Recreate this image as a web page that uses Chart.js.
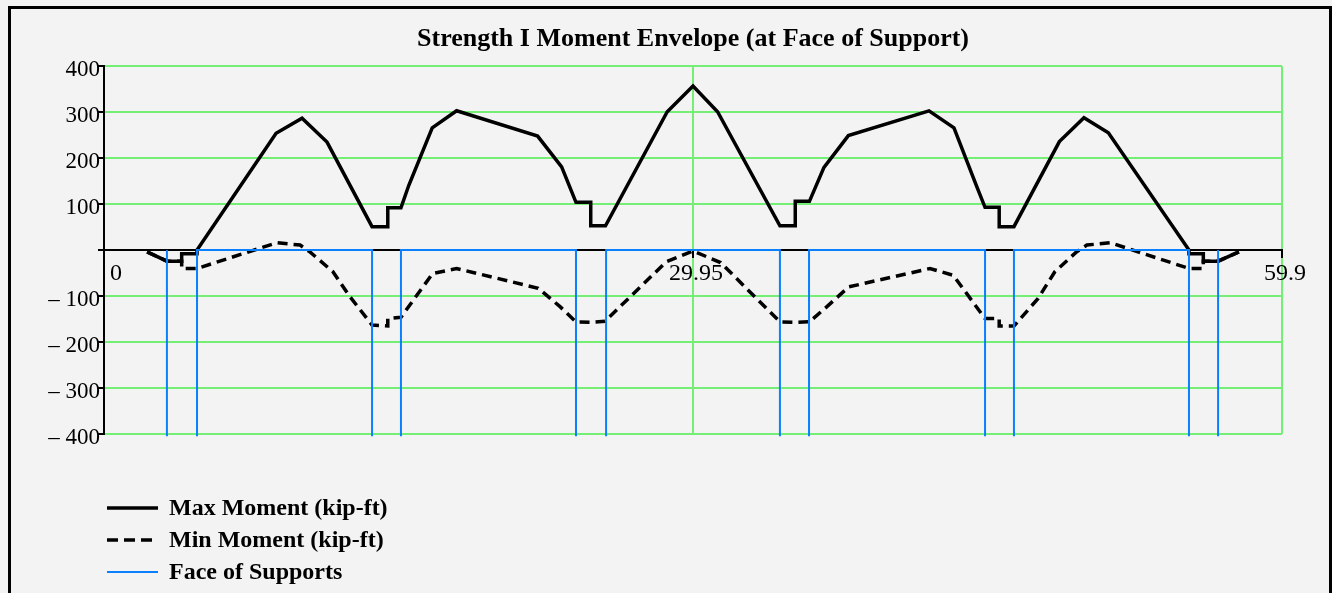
<!DOCTYPE html>
<html>
<head>
<meta charset="utf-8">
<script src="https://cdn.jsdelivr.net/npm/chart.js@4"></script>
<style>
  html, body { margin: 0; padding: 0; background: #f3f3f3; }
  #frame { position: absolute; left: 8px; top: 6px; width: 1318px; height: 600px; border: 3px solid #000; border-bottom: none; }
  canvas { display: block; }
</style>
</head>
<body>
<div id="frame"><canvas id="myChart" width="1318" height="584"></canvas></div>
<script>
    // distances along the girder (ft) and moments (kip-ft)
    let maxX = [2.19, 3.2, 3.95, 3.95, 4.73, 4.73, 8.75, 10.07, 11.34, 13.63, 14.43, 14.43, 15.1, 15.5, 16.69, 17.93,
                22.05, 23.27, 24.0, 24.75, 24.75, 25.5, 28.64, 29.95, 31.2, 34.37, 35.15, 35.15, 35.87, 36.61, 37.85,
                41.95, 43.22, 44.41, 44.8, 45.52, 45.52, 46.27, 48.58, 49.83, 51.07, 55.17, 55.17, 55.9, 55.9, 56.65, 57.71];
    let maxY = [-4, -24, -24, -8, -8, 0, 254, 287, 235, 51, 51, 92, 92, 141, 266, 303,
                248, 181, 104, 104, 53, 53, 301, 357, 301, 53, 53, 106, 106, 180, 249,
                303, 266, 135, 93, 93, 51, 51, 236, 288, 255, 0, -8, -8, -24, -24, -4];

    let minX = [2.19, 3.2, 3.95, 3.95, 4.73, 8.78, 9.97, 10.47, 11.64, 12.5, 13.63, 14.43, 14.43, 15.1, 16.71, 17.93,
                22.08, 23.19, 24.0, 24.75, 25.47, 28.6, 29.95, 31.35, 34.37, 35.15, 35.87, 36.76, 37.87,
                42.0, 43.19, 44.8, 45.52, 45.52, 46.27, 47.5, 48.35, 49.45, 49.98, 51.17, 55.17, 55.9, 55.9, 56.65, 57.71];
    let minY = [-4, -24, -24, -40, -40, 16, 11, -4, -47, -101, -163, -165, -149, -146, -51, -40,
                -83, -123, -156, -157, -155, -25, -2, -27, -156, -157, -156, -123, -80,
                -40, -55, -149, -149, -165, -165, -105, -47, -4, 11, 16, -40, -40, -24, -24, -4];

    let supportX = [3.2, 4.73, 13.63, 15.1, 24.0, 25.53, 34.37, 35.85, 44.8, 46.27, 55.17, 56.65];

    let xTicks = [0, 29.95, 59.9];
    let xTickLabels = ["   0", "29.95", "59.9"];
    let yTicks = [-400, -300, -200, -100, 0, 100, 200, 300, 400];

    function toPoints(xs, ys) {
      return xs.map((x, i) => ({ x: x, y: ys[i] }));
    }

    // face of supports: first and last lines alone, the rest joined along zero
    let bottom = yTicks[0] - 5;
    let last = supportX.length - 1;
    let supportPoints = [{ x: supportX[0], y: bottom }, { x: supportX[0], y: 0 }, { x: supportX[0], y: null }];
    for (let i = 1; i < last; i += 2) {
      supportPoints.push({ x: supportX[i], y: bottom }, { x: supportX[i], y: 0 },
                         { x: supportX[i + 1], y: 0 }, { x: supportX[i + 1], y: bottom },
                         { x: supportX[i + 1], y: null });
    }
    supportPoints.push({ x: supportX[last], y: 0 }, { x: supportX[last], y: bottom });

    let green = "#74ee74";
    let serif = "Liberation Serif";

    const bottomLegend = {
      id: "bottomLegend",
      afterDraw(chart) {
        const ctx = chart.ctx;
        ctx.save();
        ctx.font = "bold 24px '" + serif + "'";
        ctx.textBaseline = "middle";
        ctx.textAlign = "left";
        chart.data.datasets.forEach((ds, i) => {
          const y = 499 + i * 32;
          ctx.beginPath();
          ctx.setLineDash(ds.legendDash || []);
          ctx.lineWidth = ds.borderWidth;
          ctx.strokeStyle = ds.borderColor;
          ctx.moveTo(96, y);
          ctx.lineTo(147, y);
          ctx.stroke();
          ctx.setLineDash([]);
          ctx.fillStyle = "#000";
          ctx.fillText(ds.label, 158, y + 1);
        });
        ctx.restore();
      }
    };

    new Chart("myChart", {
      type: "line",
      data: {
        datasets: [{
          label: "Max Moment (kip-ft)",
          data: toPoints(maxX, maxY),
          borderColor: "#000",
          borderWidth: 3.5,
          pointRadius: 0,
          order: 1
        }, {
          label: "Min Moment (kip-ft)",
          data: toPoints(minX, minY),
          borderColor: "#000",
          borderWidth: 3.5,
          borderDash: [10, 6],
          legendDash: [11, 6],
          pointRadius: 0,
          order: 1
        }, {
          label: "Face of Supports",
          data: supportPoints,
          borderColor: "#0a80ff",
          borderWidth: 2,
          pointRadius: 0,
          spanGaps: false,
          clip: false,
          order: 0
        }]
      },
      options: {
        responsive: false,
        animation: false,
        events: [],
        layout: { padding: { top: 0, left: 0, right: 47, bottom: 159 } },
        scales: {
          x: {
            type: "linear",
            min: 0,
            max: 59.9,
            position: { y: 0 },
            afterBuildTicks: s => { s.ticks = xTicks.map(v => ({ value: v })); },
            ticks: {
              autoSkip: false,
              maxRotation: 0,
              labelOffset: 3,
              padding: 2,
              color: "#000",
              font: { family: serif, size: 24 },
              callback: (v, i) => xTickLabels[i]
            },
            grid: {
              color: c => (c.tick && c.tick.value === 0) ? "rgba(0,0,0,0)" : green,
              lineWidth: 2,
              tickColor: "#000",
              tickLength: 7
            },
            border: { color: "#000", width: 2 }
          },
          y: {
            type: "linear",
            min: -400,
            max: 400,
            afterBuildTicks: s => { s.ticks = yTicks.map(v => ({ value: v })); },
            afterFit: s => { s.width = 93; },
            ticks: {
              padding: -2,
              labelOffset: 4,
              color: "#000",
              font: { family: serif, size: 23 },
              callback: v => v === 0 ? "" : (v < 0 ? "\u2013 " + (-v) : "" + v)
            },
            grid: {
              color: c => (c.tick && c.tick.value === 0) ? "rgba(0,0,0,0)" : green,
              lineWidth: 2,
              tickColor: "#000",
              tickLength: 6
            },
            border: { color: "#000", width: 2 }
          }
        },
        plugins: {
          legend: { display: false },
          tooltip: { enabled: false },
          title: {
            display: true,
            text: "Strength I Moment Envelope (at Face of Support)",
            fullSize: false,
            color: "#000",
            font: { family: serif, size: 26, weight: "bold" },
            padding: { top: 15, bottom: 11 }
          }
        }
      },
      plugins: [bottomLegend]
    });
</script>
</body>
</html>
